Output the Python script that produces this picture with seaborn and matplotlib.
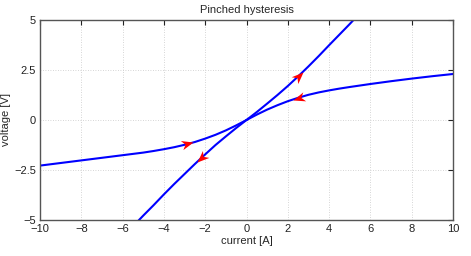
import numpy as np
import pandas as pd
import matplotlib
matplotlib.use("Agg")
import matplotlib.pyplot as plt
from matplotlib.path import Path
from matplotlib.markers import MarkerStyle
from matplotlib.transforms import Affine2D
import seaborn as sns

# --- DATA ---
# steep branch, leaving the origin
steep_up_i = [0, 0.5, 1, 1.5, 2, 2.5, 3, 3.5, 4, 4.5, 5, 5.5]
steep_up_v = [0, 0.40, 0.82, 1.25, 1.70, 2.18, 2.68, 3.20, 3.74, 4.27, 4.80, 5.35]
steep_lo_i = [0, -0.5, -1, -1.5, -2, -2.5, -3, -3.5, -4, -4.5, -5, -5.5]
steep_lo_v = [0, -0.40, -0.82, -1.25, -1.72, -2.20, -2.70, -3.20, -3.72, -4.26, -4.78, -5.32]

# flat branch, returning to the origin
flat_up_i = [0, 0.5, 1, 1.5, 2, 2.5, 3, 3.5, 4, 4.5, 5, 6, 7, 8, 9, 10]
flat_up_v = [0, 0.27, 0.52, 0.74, 0.94, 1.11, 1.26, 1.38, 1.48, 1.57, 1.65, 1.80, 1.94, 2.07, 2.19, 2.30]
flat_lo_i = [-10, -9, -8, -7, -6, -5, -4.5, -4, -3.5, -3, -2.5, -2, -1.5, -1, -0.5, 0]
flat_lo_v = [-2.28, -2.15, -2.02, -1.89, -1.76, -1.63, -1.55, -1.46, -1.36, -1.24, -1.10, -0.93, -0.74, -0.52, -0.27, 0]

# arrow tips: (branch, x at the tip, direction of travel in x)
arrow_branch = ["steep_up", "flat_up", "flat_lo", "steep_lo"]
arrow_tip_i = [2.72, 2.24, -2.57, -2.38]
arrow_dir = [1, -1, 1, -1]

x_ticks = [-10, -8, -6, -4, -2, 0, 2, 4, 6, 8, 10]
y_ticks = [-5, -2.5, 0, 2.5, 5]
y_ticklabels = ["\u22125", "\u22122.5", "0", "2.5", "5"]

branches = {
    "steep_up": (steep_up_i, steep_up_v),
    "steep_lo": (steep_lo_i, steep_lo_v),
    "flat_up": (flat_up_i, flat_up_v),
    "flat_lo": (flat_lo_i, flat_lo_v),
}

# --- STYLE ---
sns.set_style("white")
plt.rcParams["font.family"] = ["Liberation Sans", "DejaVu Sans"]
plt.rcParams["font.size"] = 8

fig = plt.figure(figsize=(4.71, 2.56), dpi=100)
ax = fig.add_axes([40 / 471, 36 / 256, 413 / 471, 200 / 256])

for name, (bi, bv) in branches.items():
    df = pd.DataFrame({"current": bi, "voltage": bv})
    sns.lineplot(data=df, x="current", y="voltage", ax=ax, sort=False,
                 estimator=None, color="#0000ff", linewidth=1.5)

ax.set_xlim(-10, 10)
ax.set_ylim(-5, 5)
ax.set_xticks(x_ticks)
ax.set_yticks(y_ticks)
ax.set_yticklabels(y_ticklabels)
ax.grid(True, linestyle=(0, (1, 2)), color="#c8c8c8", linewidth=0.6)
ax.tick_params(direction="in", length=3.5, top=True, right=True,
               labelsize=8, colors="#222222", pad=3, width=0.8)
for s in ax.spines.values():
    s.set_color("#555555")
    s.set_linewidth(1.0)

ax.set_xlabel("current [A]", fontsize=8, labelpad=1)
ax.set_ylabel("voltage [V]", fontsize=8, labelpad=2)
ax.set_title("Pinched hysteresis", fontsize=8, pad=5)

# --- ARROWHEADS ---
head = Path([(0, 0), (-2, 0.8), (-1.4, 0), (-2, -0.8), (0, 0)],
            [Path.MOVETO, Path.LINETO, Path.LINETO, Path.LINETO, Path.CLOSEPOLY])
for name, ti, d in zip(arrow_branch, arrow_tip_i, arrow_dir):
    bi, bv = branches[name]
    order = np.argsort(bi)
    xs = np.asarray(bi)[order]
    ys = np.asarray(bv)[order]
    tv = np.interp(ti, xs, ys)
    back = ti - d * 0.3
    bvv = np.interp(back, xs, ys)
    p1 = ax.transData.transform((back, bvv))
    p2 = ax.transData.transform((ti, tv))
    ang = np.degrees(np.arctan2(p2[1] - p1[1], p2[0] - p1[0]))
    m = MarkerStyle(head, transform=Affine2D().rotate_deg(ang))
    ax.plot([ti], [tv], marker=m, markersize=17, color="red",
            markeredgewidth=0, linestyle="none", zorder=5)

fig.savefig("out.png", dpi=100)
